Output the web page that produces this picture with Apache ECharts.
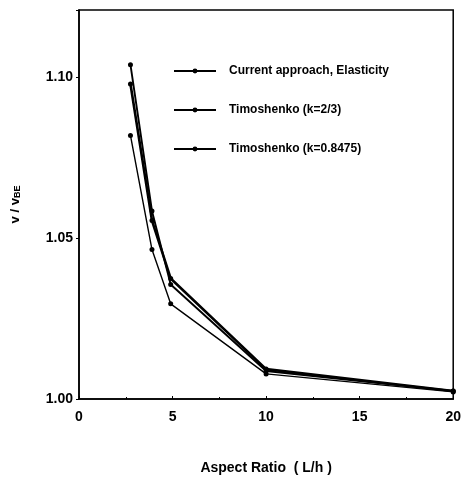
<!DOCTYPE html>
<html>
<head>
<meta charset="utf-8">
<script src="https://cdn.jsdelivr.net/npm/echarts@6/dist/echarts.min.js"></script>
<style>
  html, body { margin: 0; padding: 0; background: #fff; }
  #chart { width: 464px; height: 481px; }
</style>
</head>
<body>
<div id="chart"></div>
<script>
// aspect ratio L/h
const aspectRatio = [2.75, 3.9, 4.9, 10, 20];
const currentElasticity = [1.098, 1.0555, 1.0375, 1.0093, 1.0025];
const timoshenko23 = [1.082, 1.0465, 1.0296, 1.0078, 1.0022];
const timoshenko8475 = [1.104, 1.0585, 1.0356, 1.0087, 1.0025];
const yTickLabels = ["1.00", "1.05", "1.10"];
const xTickLabels = ["0", "5", "10", "15", "20"];

const font = "Liberation Sans";

function pairs(ys) {
  return aspectRatio.map((x, i) => [x, ys[i]]);
}

function makeSeries(name, ys, width) {
  return {
    name: name,
    type: "line",
    data: pairs(ys),
    symbol: "circle",
    symbolSize: 5,
    showAllSymbol: true,
    color: "#000",
    itemStyle: { color: "#000" },
    lineStyle: { color: "#000", width: width },
    emphasis: { disabled: true },
    z: 3,
  };
}

const myChart = echarts.init(document.getElementById("chart"));

const options = {
  animation: false,
  backgroundColor: "#fff",
  grid: {
    show: true,
    left: 79,
    right: 10,
    top: 10,
    bottom: 82,
    borderColor: "#000",
    borderWidth: 1.5,
    backgroundColor: "transparent",
  },
  legend: {
    orient: "vertical",
    left: 173,
    top: 65,
    padding: 0,
    itemWidth: 42,
    itemHeight: 6,
    itemGap: 27,
    textStyle: {
      fontFamily: font,
      fontWeight: "bold",
      fontSize: 12,
      color: "#000",
      padding: [0, 0, 0, 8],
    },
    data: ["Current approach, Elasticity", "Timoshenko (k=2/3)", "Timoshenko (k=0.8475)"],
  },
  xAxis: {
    type: "value",
    min: 0,
    max: 20,
    interval: 5,
    name: "Aspect Ratio  ( L/h )",
    nameLocation: "middle",
    nameGap: 62,
    nameTextStyle: {
      fontFamily: font,
      fontWeight: "bold",
      fontSize: 14,
      color: "#000",
    },
    axisLine: { show: true, lineStyle: { color: "#000", width: 1.5 } },
    axisTick: { show: true, inside: true, length: 3, lineStyle: { color: "#000" } },
    minorTick: { show: true, splitNumber: 2, length: 2, lineStyle: { color: "#000" } },
    splitLine: { show: false },
    axisLabel: {
      margin: 11,
      fontFamily: font,
      fontWeight: "bold",
      fontSize: 14,
      color: "#000",
      formatter: (v) => (xTickLabels.includes(String(v)) ? String(v) : ""),
    },
  },
  yAxis: {
    type: "value",
    min: 1.0,
    max: 1.121,
    interval: 0.05,
    name: "{a|v / v}{b|BE}",
    nameLocation: "middle",
    nameGap: 57,
    nameRotate: 90,
    nameTextStyle: {
      rich: {
        a: { fontFamily: font, fontWeight: "bold", fontSize: 13, color: "#000" },
        b: { fontFamily: font, fontWeight: "bold", fontSize: 9, color: "#000", verticalAlign: "bottom", padding: [4, 0, 0, 0] },
      },
    },
    axisLine: { show: true, lineStyle: { color: "#000", width: 1.5 } },
    axisTick: { show: true, inside: false, length: 3, lineStyle: { color: "#000" } },
    splitLine: { show: false },
    axisLabel: {
      margin: 6,
      fontFamily: font,
      fontWeight: "bold",
      fontSize: 14,
      color: "#000",
      formatter: (v) => {
        const s = v.toFixed(2);
        return yTickLabels.includes(s) ? s : "";
      },
    },
  },
  series: [
    makeSeries("Current approach, Elasticity", currentElasticity, 2.6),
    makeSeries("Timoshenko (k=2/3)", timoshenko23, 1.4),
    makeSeries("Timoshenko (k=0.8475)", timoshenko8475, 1.9),
  ],
};

myChart.setOption(options, true);
</script>
</body>
</html>
